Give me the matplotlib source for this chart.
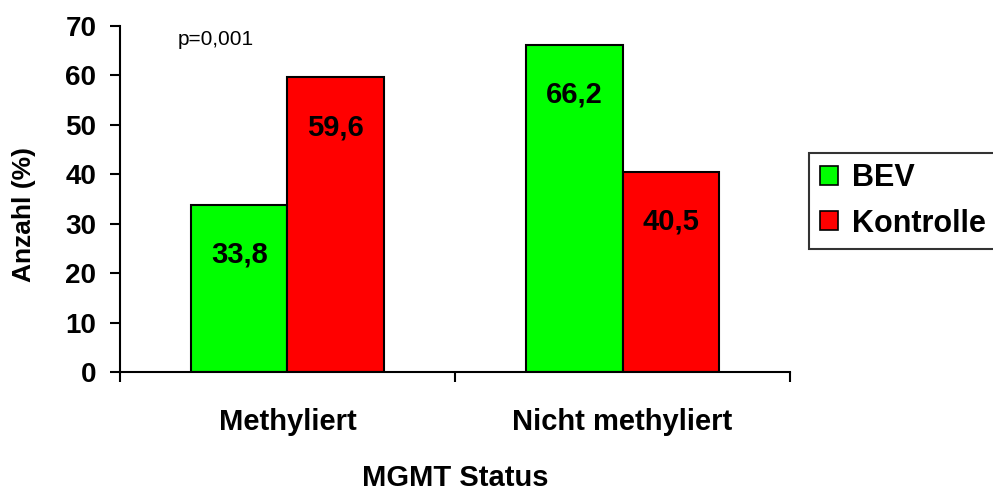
import numpy as np
import matplotlib.pyplot as plt

plt.rcParams['font.family'] = ['Liberation Sans', 'DejaVu Sans']

categories = ['Methyliert', 'Nicht methyliert']
bev = [33.8, 66.2]
kontrolle = [59.6, 40.5]
bev_labels = ['33,8', '66,2']
kontrolle_labels = ['59,6', '40,5']

fig = plt.figure(figsize=(9.93, 4.90), dpi=100)
ax = fig.add_axes([0.1208, 0.2408, 0.6748, 0.7062])

ind = np.arange(len(categories)) + 0.5
width = 0.287

p1 = ax.bar(ind - width / 2, bev, width, color='#00ff00', edgecolor='black', linewidth=1.5)
p2 = ax.bar(ind + width / 2, kontrolle, width, color='#ff0000', edgecolor='black', linewidth=1.5)

for x, v, s in zip(ind - width / 2, bev, bev_labels):
    ax.annotate(s, (x, v), xytext=(0, -36), textcoords='offset points',
                ha='center', va='center', fontsize=21, fontweight='bold')
for x, v, s in zip(ind + width / 2, kontrolle, kontrolle_labels):
    ax.annotate(s, (x, v), xytext=(0, -36), textcoords='offset points',
                ha='center', va='center', fontsize=21, fontweight='bold')

ax.set_xlim(0, 2)
ax.set_ylim(0, 70)
ax.set_yticks(range(0, 71, 10))
ax.set_yticklabels([str(t) for t in range(0, 71, 10)], fontsize=20, fontweight='bold')
ax.set_xticks([0, 1, 2])
ax.set_xticklabels([])
ax.set_xticks(ind, minor=True)
ax.set_xticklabels(categories, minor=True, fontsize=21, fontweight='bold')
ax.tick_params(axis='x', which='minor', length=0, pad=26)
ax.tick_params(axis='x', which='major', length=7, width=1.5)
ax.tick_params(axis='y', length=7, width=1.5, pad=10)

for side in ['top', 'right']:
    ax.spines[side].set_visible(False)
for side in ['left', 'bottom']:
    ax.spines[side].set_linewidth(1.5)

ax.set_ylabel('Anzahl (%)', fontsize=19, fontweight='bold')
ax.yaxis.set_label_coords(-0.126, 0.454)
ax.set_xlabel('MGMT Status', fontsize=21, fontweight='bold', labelpad=20)

ax.text(0.285, 67.2, 'p=0,001', fontsize=15, ha='center', va='center')

leg = fig.legend((p1[0], p2[0]), ('BEV', 'Kontrolle'), loc='center left',
                 bbox_to_anchor=(0.815, 0.590), frameon=True, fancybox=False,
                 edgecolor='black', prop={'size': 22, 'weight': 'bold'},
                 handlelength=0.6, handleheight=0.6, handletextpad=0.45,
                 borderpad=0.35, labelspacing=0.5, borderaxespad=0)
leg.get_frame().set_linewidth(1.5)
for h in leg.legend_handles:
    h.set_linewidth(1.2)

fig.savefig('out.png', dpi=100)
